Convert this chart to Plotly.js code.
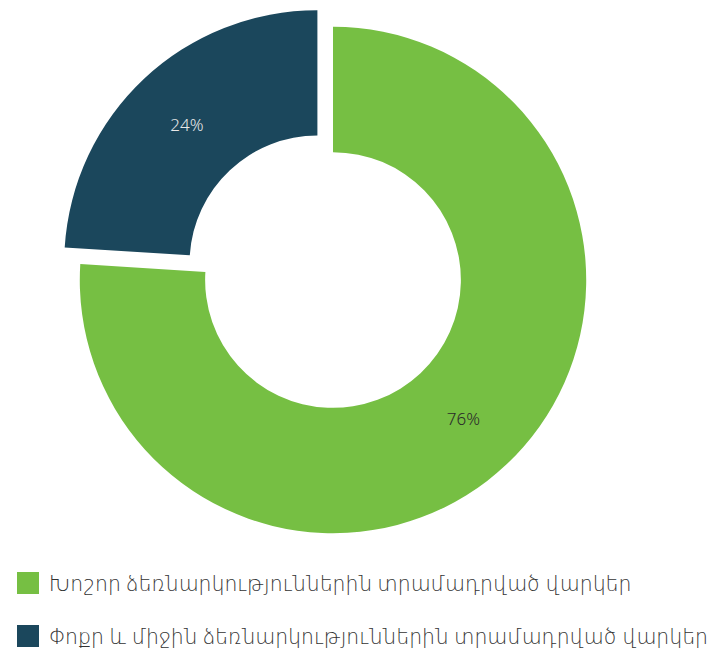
<!DOCTYPE html>
<html>
<head>
<meta charset="utf-8">
<script src="https://cdn.plot.ly/plotly-3.0.1.min.js"></script>
<style>html,body{margin:0;padding:0;background:#fff;}#chart{width:727px;height:651px;}</style>
</head>
<body>
<div id="chart"></div>
<script>
const labels = ["Խոշոր ձեռնարկություններին տրամադրված վարկեր", "Փոքր և միջին ձեռնարկություններին տրամադրված վարկեր"];
const values = [76, 24];
const textLabels = ["76%", "24%"];
const colors = ["#76BF43", "#1B475C"];
const textColors = ["#2a2a2a", "#e8e8e8"];
const pulls = [0, 0.09];

const W = 727, H = 651;
const FONT = "Noto Sans, DejaVu Sans, sans-serif";

const trace = {
  type: "pie",
  labels: labels,
  values: values,
  text: textLabels,
  textinfo: "text",
  textposition: "inside",
  insidetextorientation: "horizontal",
  insidetextfont: {family: FONT, size: 17, color: textColors, weight: 300},
  hole: 0.505,
  sort: false,
  direction: "clockwise",
  rotation: 0,
  pull: pulls,
  marker: {colors: colors, line: {width: 0}},
  domain: {x: [57 / W, 609 / W], y: [1 - 556 / H, 1 - 4 / H]},
  showlegend: false,
  hoverinfo: "label+percent"
};

const rowY = [583, 636];
const shapes = [];
const annotations = [];
labels.forEach((lab, i) => {
  shapes.push({
    type: "rect", xref: "paper", yref: "paper",
    x0: 17 / W, x1: 39 / W,
    y0: 1 - (rowY[i] + 11) / H, y1: 1 - (rowY[i] - 11) / H,
    fillcolor: colors[i], line: {width: 0}
  });
  annotations.push({
    xref: "paper", yref: "paper",
    x: 47 / W, y: 1 - rowY[i] / H,
    xanchor: "left", yanchor: "middle",
    text: lab, showarrow: false,
    font: {family: FONT, size: 20.4, color: "#333333", weight: 300}
  });
});

const layout = {
  width: W, height: H,
  margin: {l: 0, r: 0, t: 0, b: 0, autoexpand: false},
  paper_bgcolor: "#ffffff",
  showlegend: false,
  shapes: shapes,
  annotations: annotations
};

Plotly.newPlot("chart", [trace], layout, {displayModeBar: false, staticPlot: true});
</script>
</body>
</html>
